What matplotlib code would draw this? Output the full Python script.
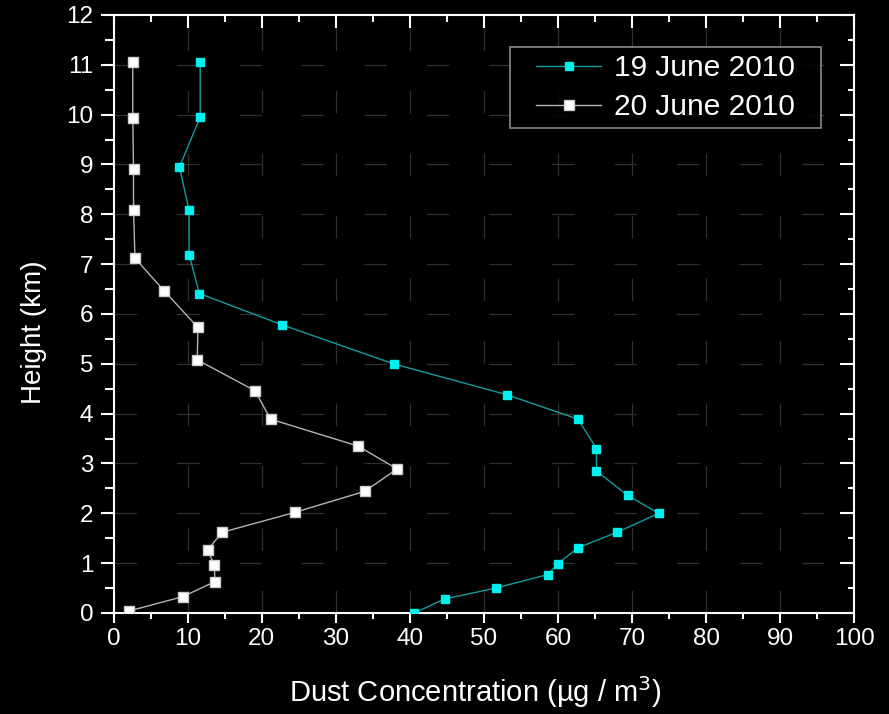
import matplotlib
matplotlib.use("Agg")
import matplotlib.pyplot as plt
from matplotlib.ticker import MultipleLocator

# ---- data ----
h19 = [11.06, 9.95, 8.95, 8.08, 7.19, 6.41, 5.78, 5.0, 4.38, 3.89, 3.30,
       2.85, 2.36, 2.0, 1.62, 1.31, 0.99, 0.77, 0.50, 0.28, 0.0]
c19 = [11.7, 11.7, 8.9, 10.2, 10.2, 11.6, 22.8, 37.8, 53.1, 62.7, 65.2,
       65.2, 69.4, 73.6, 68.0, 62.7, 60.0, 58.6, 51.6, 44.7, 40.6]

h20 = [11.06, 9.93, 8.90, 8.08, 7.12, 6.47, 5.73, 5.08, 4.46, 3.89, 3.35,
       2.89, 2.44, 2.02, 1.62, 1.27, 0.96, 0.63, 0.33, 0.04]
c20 = [2.6, 2.6, 2.7, 2.7, 2.9, 6.8, 11.4, 11.3, 19.1, 21.2, 33.0,
       38.3, 33.9, 24.5, 14.7, 12.7, 13.6, 13.7, 9.4, 2.1]

labels = ["19 June 2010", "20 June 2010"]

plt.rcParams['font.family'] = ['Liberation Sans', 'DejaVu Sans']

fig = plt.figure(figsize=(8.89, 7.14), dpi=100, facecolor='black')
ax = fig.add_axes([0.1277, 0.1415, 0.9609 - 0.1277, 0.979 - 0.1415])
ax.set_facecolor('black')

ax.plot(c19, h19, color='#149c9c', lw=1.0, marker='s', ms=5.4,
        mfc='#00f0f0', mec='#00f0f0', label=labels[0], zorder=3)
ax.plot(c20, h20, color='#b4b4b4', lw=1.0, marker='s', ms=6.6,
        mfc='white', mec='#cccccc', label=labels[1], zorder=3)

ax.set_xlim(0, 100)
ax.set_ylim(0, 12)
ax.xaxis.set_major_locator(MultipleLocator(10))
ax.xaxis.set_minor_locator(MultipleLocator(5))
ax.yaxis.set_major_locator(MultipleLocator(1))
ax.yaxis.set_minor_locator(MultipleLocator(0.5))

for s in ax.spines.values():
    s.set_color('white')
    s.set_linewidth(1.5)

ax.tick_params(axis='both', which='both', colors='white', width=1.5,
               labelsize=17.5, direction='out')
ax.tick_params(axis='x', which='major', length=7.5, pad=3)
ax.tick_params(axis='x', which='minor', length=4.5)
ax.tick_params(axis='y', which='major', length=9.5, pad=5)
ax.tick_params(axis='y', which='minor', length=6.5)

# inward mirror ticks on top and right
top = ax.secondary_xaxis('top')
top.set_xticks(range(0, 101, 10))
top.xaxis.set_minor_locator(MultipleLocator(5))
top.tick_params(which='both', direction='in', colors='white', width=1.5,
                labeltop=False)
top.tick_params(which='major', length=9.5)
top.tick_params(which='minor', length=5)
top.spines['top'].set_visible(False)
right = ax.secondary_yaxis('right')
right.set_yticks(range(0, 13))
right.yaxis.set_minor_locator(MultipleLocator(0.5))
right.tick_params(which='both', direction='in', colors='white', width=1.5,
                  labelright=False)
right.tick_params(which='major', length=10)
right.tick_params(which='minor', length=4.5)
right.spines['right'].set_visible(False)

ax.grid(True, which='major', color='#303030', lw=0.9,
        linestyle=(0, (18, 32)))

ax.set_xlabel('Dust Concentration (\u00b5g / m$^3$)', color='white',
              fontsize=21)
ax.set_ylabel('Height (km)', color='white', fontsize=20)
ax.xaxis.set_label_coords(0.488, -0.102)
ax.yaxis.set_label_coords(-0.09, 0.47)

leg = ax.legend(loc='upper right', bbox_to_anchor=(0.9278, 0.9448),
                fontsize=21.5, frameon=True, fancybox=False,
                handlelength=2.2, handletextpad=0.42, labelspacing=0.37,
                borderpad=0.2, borderaxespad=0)
frame = leg.get_frame()
frame.set_facecolor('black')
frame.set_edgecolor('#aaaaaa')
frame.set_linewidth(1.2)
# wider padding left/right than top/bottom
frame.set_boxstyle('square', pad=0.67)
frame.set_mutation_aspect(0.05)
for t in leg.get_texts():
    t.set_color('white')

fig.savefig('out.png', dpi=100, facecolor='black')
